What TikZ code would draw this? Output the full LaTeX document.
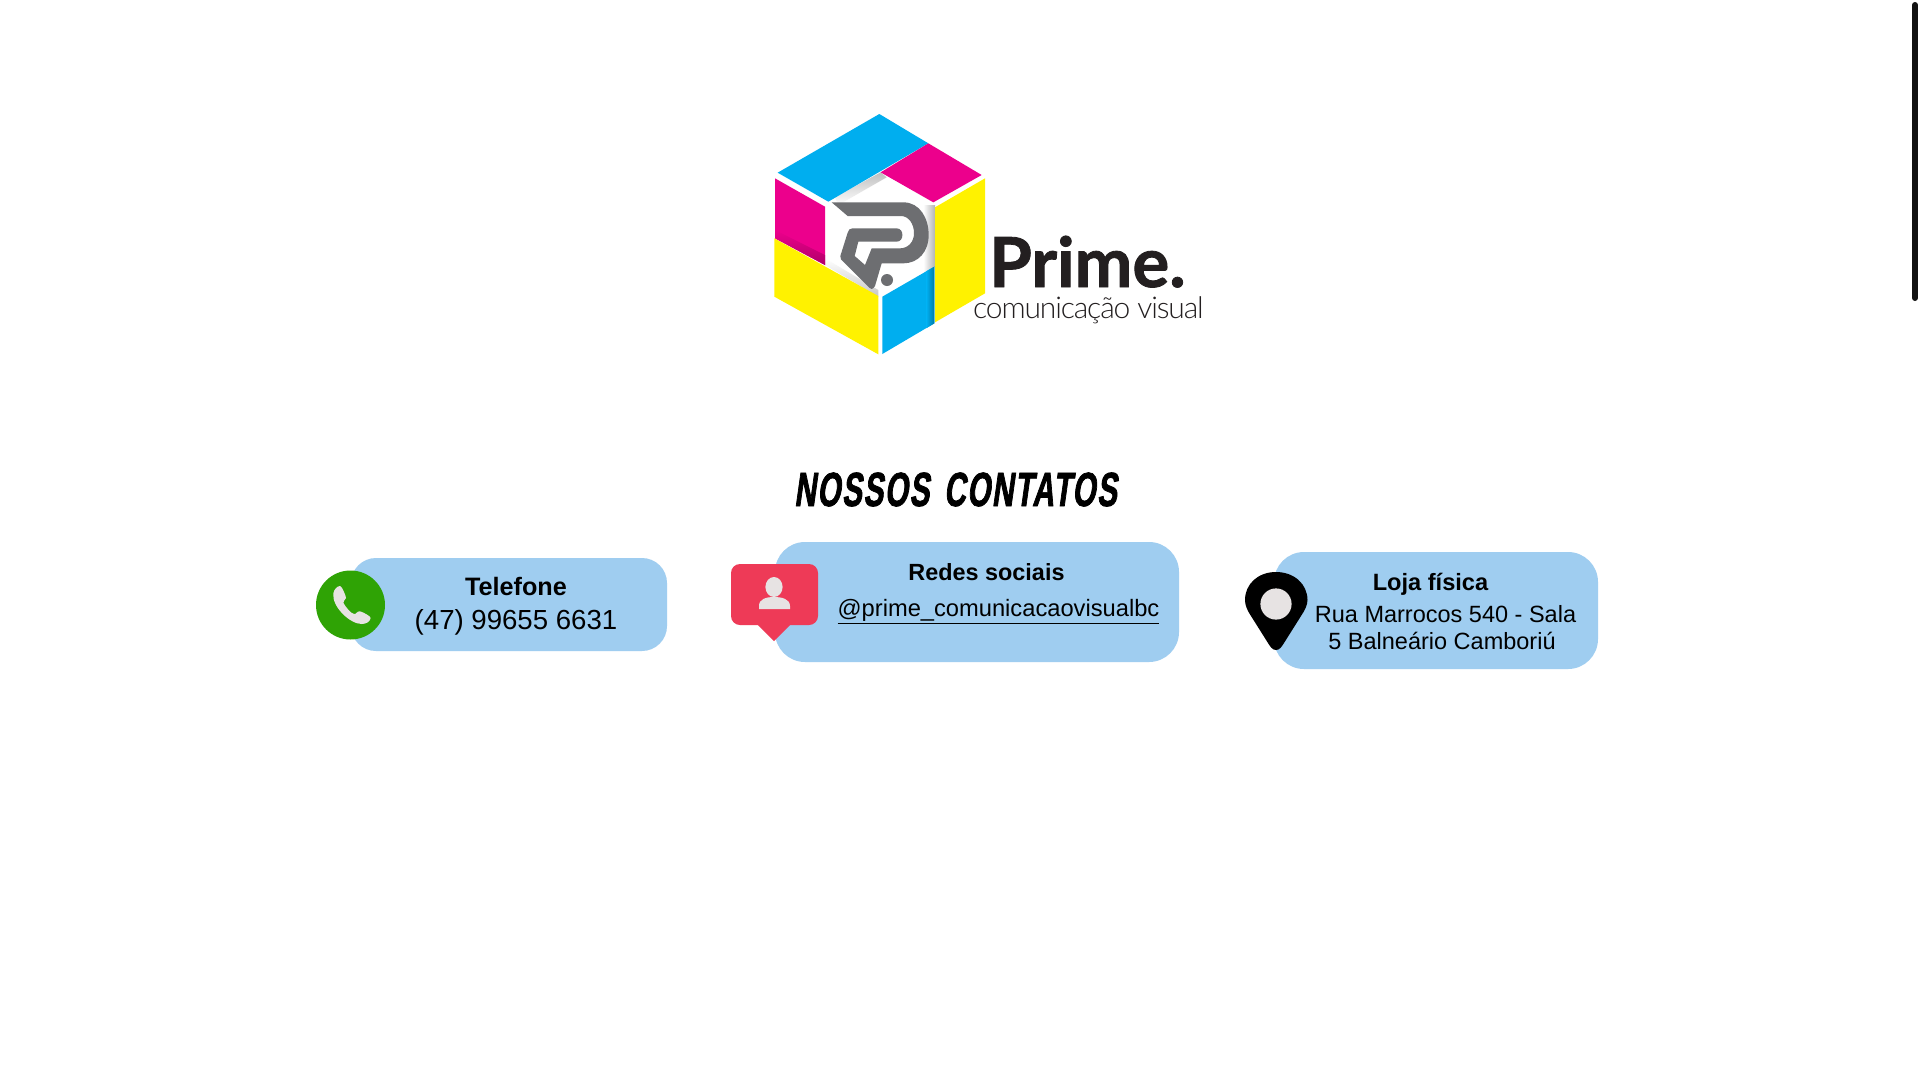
\documentclass[tikz,border=0pt]{standalone}
\usepackage{fontspec}
\setmainfont{Liberation Sans}
\newfontfamily\titlefont[FakeStretch=0.62,FakeSlant=0.14,LetterSpace=3.2,BoldFeatures={FakeStretch=0.62,FakeSlant=0.14,FakeBold=1.5,LetterSpace=3.2}]{Liberation Sans}
\newfontfamily\logofont[BoldFeatures={FakeBold=1.2}]{Lato}
\newfontfamily\logolight[LetterSpace=-3.8]{Lato Light}
\definecolor{boxblue}{HTML}{9FCDF0}
\definecolor{phonegreen}{HTML}{2FA305}
\definecolor{iconred}{HTML}{EE3A57}
\definecolor{iconlight}{HTML}{E7E3E3}
\definecolor{logocyan}{HTML}{00AEEF}
\definecolor{logomag}{HTML}{EC008C}
\definecolor{logoyel}{HTML}{FFF200}
\definecolor{logogray}{HTML}{6D6E71}
\definecolor{logoink}{HTML}{231F20}
\tikzset{
  card/.style={fill=boxblue,draw=none,rounded corners=#1},
  txt/.style={inner sep=0pt,outer sep=0pt,text=black,align=center},
  shadowstrip/.style={draw=none},
}
\begin{document}
\begin{tikzpicture}[x=1pt,y=-1pt]
\useasboundingbox (0,0) rectangle (1920,1080);
\fill[white] (0,0) rectangle (1920,1080);
% scrollbar
\draw[line width=6pt,line cap=round,color=black!93] (1915,5) -- (1915,298);
% logo cube
\begin{scope}[shift={(740,90)},x=0.33333pt,y=-0.33333pt]
  \fill[white] (255,340) -- (420,245) -- (585,340) -- (585,530) -- (415,620) -- (255,525) -- cycle;
  \shade[shadowstrip,left color=white,right color=black!30] (550,345) -- (585,345) -- (585,530) -- (550,550) -- cycle;
  \shade[shadowstrip,top color=black!25,bottom color=white] (285,322) -- (422,247) -- (440,262) -- (295,345) -- cycle;
  \shade[shadowstrip,top color=white,bottom color=black!22] (255,505) -- (415,600) -- (415,620) -- (255,525) -- cycle;
  \fill[logocyan] (418,72) -- (565,160) -- (265,335) -- (113,248) -- cycle;
  \fill[logomag] (565,160) -- (725,255) -- (580,337) -- (422,247) -- cycle;
  \fill[logomag] (105,265) -- (255,350) -- (255,525) -- (105,445) -- cycle;
  \shade[shadowstrip,top color=logomag,bottom color=logomag!75!black] (105,420) -- (255,495) -- (255,525) -- (105,445) -- cycle;
  \fill[logoyel] (585,352) -- (735,265) -- (735,610) -- (585,697) -- cycle;
  \fill[logoyel] (103,445) -- (415,618) -- (415,793) -- (103,620) -- cycle;
  \fill[logocyan] (427,620) -- (583,530) -- (583,700) -- (427,792) -- cycle;
  \shade[shadowstrip,left color=logocyan,right color=logocyan!70!black] (560,543) -- (583,530) -- (583,700) -- (560,714) -- cycle;
\end{scope}
% logo P
\begin{scope}[shift={(815,180)},x=0.33333pt,y=-0.33333pt]
  \fill[logogray] (50,67) -- (265,67) .. controls (315,67) and (341,115) .. (341,165)
    .. controls (341,215) and (310,250) .. (265,250) -- (200,250) -- (180,318)
    .. controls (178,326) and (170,330) .. (163,323) -- (78,238)
    .. controls (75,235) and (75,232) .. (76,228) -- (98,158)
    .. controls (100,150) and (104,145) .. (112,145) -- (245,145)
    .. controls (268,145) and (268,185) .. (245,185) -- (130,185) -- (119,228) -- (150,255)
    -- (170,205) -- (255,205) .. controls (280,205) and (297,185) .. (297,160)
    .. controls (297,130) and (280,108) .. (258,108) -- (98,108) -- cycle;
  \fill[logogray] (216,300) circle[radius=18];
\end{scope}
\node[anchor=base west,inner sep=0pt,text=logoink,font=\logofont\bfseries\fontsize{69}{69}\selectfont] (prime) at (989,287) {Prime.};
\node[anchor=base west,inner sep=0pt,text=logoink,font=\logolight\fontsize{30}{30}\selectfont] (comvis) at (973,318) {comunicação visual};
% title
\node[txt,font=\titlefont\bfseries\fontsize{48}{48}\selectfont] (title) at (955.5,489.5) {NOSSOS\hspace{5pt} CONTATOS};
% cards
\fill[card=25] (351,558) rectangle (667,651);
\fill[card=30] (775,542) rectangle (1179,662);
\fill[card=30] (1274,552) rectangle (1598,669);
% phone icon
\fill[phonegreen] (350.5,605) circle[radius=34.5];
\begin{scope}[shift={(310,560)},x=0.33333pt,y=-0.33333pt]
  \fill[iconlight] (70,100) .. controls (72,88) and (82,78) .. (90,78)
    .. controls (96,78) and (108,108) .. (108,114)
    .. controls (108,120) and (98,122) .. (100,128)
    .. controls (106,140) and (122,160) .. (132,162)
    .. controls (138,164) and (142,152) .. (150,154)
    .. controls (158,156) and (182,168) .. (182,174)
    .. controls (180,184) and (170,192) .. (155,192)
    .. controls (120,192) and (65,140) .. (70,100) -- cycle;
\end{scope}
% social icon
\fill[iconred,rounded corners=9pt] (731,564) rectangle (818,625);
\fill[iconred] (757,624) -- (791,624) -- (774,641) -- cycle;
\fill[iconlight] (774,587) ellipse[x radius=8.6,y radius=10];
\fill[iconlight] (759,609) -- (759,606) .. controls (759,599) and (766,597) .. (774,597) .. controls (782,597) and (790,599) .. (790,606) -- (790,609) -- cycle;
% pin icon
\fill[black] (1276,650) .. controls (1272,650) and (1270,646) .. (1268,643) -- (1251,616)
  .. controls (1247,610) and (1245,605) .. (1245,600)
  .. controls (1245,584) and (1258,572) .. (1276,572)
  .. controls (1294,572) and (1307.5,584) .. (1307.5,600)
  .. controls (1307.5,605) and (1305,610) .. (1301,616) -- (1284,643)
  .. controls (1282,646) and (1280,650) .. (1276,650) -- cycle;
\fill[iconlight] (1276,604) circle[radius=15.6];
% card texts
\node[txt,font=\bfseries\fontsize{25.2}{25.2}\selectfont] (t1) at (516,586) {Telefone};
\node[txt,font=\fontsize{27.6}{27.6}\selectfont] (t2) at (516,622.5) {(47) 99655 6631};
\node[txt,font=\bfseries\fontsize{23.4}{23.4}\selectfont] (r1) at (986.5,572) {Redes sociais};
\node[txt,font=\fontsize{23.7}{23.7}\selectfont] (r2) at (998.5,611.5) {\underline{@prime\_comunicacaovisualbc}};
\node[txt,font=\bfseries\fontsize{23.6}{23.6}\selectfont] (l1) at (1430.5,584) {Loja física};
\node[txt,font=\fontsize{23.5}{23.5}\selectfont] (l2) at (1445.5,614) {Rua Marrocos 540 - Sala};
\node[txt,font=\fontsize{23.5}{23.5}\selectfont] (l3) at (1442,641) {5 Balneário Camboriú};
\end{tikzpicture}
\end{document}
